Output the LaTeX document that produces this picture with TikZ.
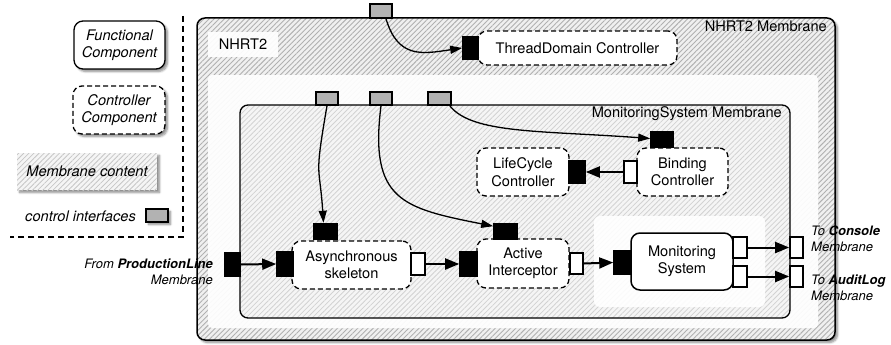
\documentclass[tikz,border=0pt]{standalone}
\usepackage{fontspec}
\setmainfont{TeX Gyre Heros}
\usetikzlibrary{patterns.meta,arrows.meta,shadows.blur,calc}
\tikzset{
  txt/.style={font=\fontsize{14.6}{17.5}\selectfont},
  smalltxt/.style={font=\fontsize{13}{16}\selectfont\itshape},
  fcomp/.style={txt, draw, line width=1.3pt, rounded corners=9pt, fill=white, align=center, inner sep=0pt},
  ccomp/.style={fcomp, dash pattern=on 5pt off 3pt},
  hatchdark/.style={preaction={fill=gray!12}, pattern={Lines[angle=45,distance=3.6pt,line width=0.9pt]}, pattern color=gray!62},
  hatchlight/.style={preaction={fill=gray!8}, pattern={Lines[angle=45,distance=3.6pt,line width=0.8pt]}, pattern color=gray!35},
  itf/.style={draw, line width=1.6pt, inner sep=0pt},
  blk/.style={itf, fill=black},
  wht/.style={itf, fill=white},
  gry/.style={itf, fill=gray!60},
  shd/.style={blur shadow={shadow xshift=2.5pt, shadow yshift=-2.5pt, shadow blur steps=6, shadow opacity=45}},
  thickarrow/.style={line width=2pt, -{Triangle[length=14pt,width=11pt]}},
  thinarrow/.style={line width=1.3pt, -{Triangle[length=12pt,width=8pt]}},
}
\begin{document}
\begin{tikzpicture}[x=1pt,y=-1pt]
\useasboundingbox (0,0) rectangle (891,345);

% ---------------- legend ----------------
\node[shd, fcomp, minimum width=91pt, minimum height=48pt, font=\fontsize{14.6}{17.5}\selectfont\itshape] (lfunc) at (119.5,45) {Functional\\Component};
\node[shd, ccomp, minimum width=92pt, minimum height=48pt, font=\fontsize{14.6}{17.5}\selectfont\itshape] (lctrl) at (119,110) {Controller\\Component};
\node[shd, hatchlight, pattern color=gray!45, minimum width=140pt, minimum height=37pt, txt, font=\fontsize{14.6}{17.5}\selectfont\itshape, inner sep=0pt] (lmemb) at (87,171.5) {Membrane content};
\node[txt, font=\fontsize{14.6}{17.5}\selectfont\itshape, anchor=east, inner sep=0pt] (lctltxt) at (136,216) {control interfaces};
\node[shd, gry, minimum width=22pt, minimum height=13pt] (lgry) at (157,215.5) {};
\coordinate (legtop) at (183,16);
\coordinate (legcorner) at (183,237);
\coordinate (legleft) at (10,237);
\draw[line width=1.5pt, dash pattern=on 6pt off 4pt] (legtop) -- (legcorner) -- (legleft);

% ---------------- NHRT2 membrane ----------------
\node[shd, draw, line width=1.5pt, rounded corners=8pt, hatchdark, minimum width=638pt, minimum height=322pt, inner sep=0pt] (nhrt) at (516,179) {};
\node[txt, anchor=north east, inner sep=0pt] (nhrtlbl) at (827,21) {NHRT2 Membrane};
\node[fill=white, fill opacity=0.92, text opacity=1, minimum width=70pt, minimum height=25pt, txt, inner sep=0pt] (nhrtname) at (243,44.5) {NHRT2};
\node[fill=white, fill opacity=0.93, rounded corners=4pt, minimum width=610pt, minimum height=253pt, inner sep=0pt] (inner) at (513,201.5) {};

% ThreadDomain controller
\node[ccomp, minimum width=199pt, minimum height=34pt] (tdc) at (577.5,48) {ThreadDomain Controller};
\node[blk, minimum width=15pt, minimum height=22pt] (tdblack) at (470.5,48) {};
\node[gry, minimum width=22pt, minimum height=14pt] (topgray) at (381,11) {};

% ---------------- MonitoringSystem membrane ----------------
\node[draw, line width=1.3pt, rounded corners=8pt, hatchlight, minimum width=550pt, minimum height=213pt, inner sep=0pt] (msm) at (515,211.5) {};
\node[txt, anchor=north east, inner sep=0pt] (msmlbl) at (782,106) {MonitoringSystem Membrane};

\node[gry, minimum width=22pt, minimum height=13pt] (g1) at (327,98.5) {};
\node[gry, minimum width=22pt, minimum height=13pt] (g2) at (381,98.5) {};
\node[gry, minimum width=23pt, minimum height=13pt] (g3) at (439.5,98.5) {};

% controllers
\node[ccomp, minimum width=91pt, minimum height=48pt] (bc) at (682.5,172) {Binding\\Controller};
\node[blk, minimum width=22pt, minimum height=15pt] (bctop) at (662,139.5) {};
\node[wht, minimum width=13pt, minimum height=22pt] (bcleft) at (630.5,172) {};
\node[ccomp, minimum width=92pt, minimum height=48pt] (lc) at (523,172) {LifeCycle\\Controller};
\node[blk, minimum width=16pt, minimum height=22pt] (lcright) at (577,172) {};

% functional chain
\node[ccomp, minimum width=119pt, minimum height=48pt] (async) at (351.5,265) {Asynchronous\\skeleton};
\node[blk, minimum width=23pt, minimum height=16pt] (asynctop) at (325.5,231.5) {};
\node[blk, minimum width=16pt, minimum height=24pt] (asyncleft) at (285,264) {};
\node[wht, minimum width=14pt, minimum height=22pt] (asyncright) at (418,264) {};

\node[ccomp, minimum width=92pt, minimum height=49pt] (ai) at (523,263.5) {Active\\Interceptor};
\node[blk, minimum width=23pt, minimum height=15pt] (aitop) at (505.5,231.5) {};
\node[blk, minimum width=17pt, minimum height=24pt] (aileft) at (468.5,264) {};
\node[wht, minimum width=13pt, minimum height=21pt] (airight) at (576.5,263.5) {};

\node[fill=white, fill opacity=0.9, rounded corners=6pt, minimum width=171pt, minimum height=91pt, inner sep=0pt] (mspanel) at (679.5,261.5) {};
\node[fcomp, line width=1.5pt, minimum width=102pt, minimum height=57pt] (ms) at (682,261.5) {Monitoring\\System};
\node[blk, minimum width=17pt, minimum height=23pt] (msleft) at (622.5,262.5) {};
\node[wht, minimum width=14pt, minimum height=21pt] (msout1) at (740,247.5) {};
\node[wht, minimum width=14pt, minimum height=21pt] (msout2) at (740,276.5) {};
\node[wht, minimum width=13pt, minimum height=21pt] (ext1) at (796.5,247.5) {};
\node[wht, minimum width=13pt, minimum height=21pt] (ext2) at (796.5,276.5) {};
\node[blk, minimum width=15pt, minimum height=23pt] (extin) at (232.5,264.5) {};

% external labels
\node[smalltxt, anchor=west, align=left, inner sep=0pt] (consolelbl) at (811,239) {To \textbf{Console}\\Membrane};
\node[smalltxt, anchor=west, align=left, inner sep=0pt] (auditlbl) at (811,288) {To \textbf{AuditLog}\\Membrane};
\node[smalltxt, anchor=east, align=right, inner sep=0pt] (prodlbl) at (213,272) {From \textbf{ProductionLine}\\Membrane};

% ---------------- connectors ----------------
\draw[thickarrow] (extin.east) -- (asyncleft.west);
\draw[thickarrow] (asyncright.east) -- (aileft.west);
\draw[thickarrow] (airight.east) -- (msleft.west);
\draw[thickarrow] (msout1.east) -- (ext1.west);
\draw[thickarrow] (msout2.east) -- (ext2.west);
\draw[thickarrow] (bcleft.west) -- (lcright.east);

\draw[thinarrow] ($(topgray.south)+(5,0)$) .. controls +(12,40) and +(-40,6) .. (tdblack.west);
\draw[thinarrow] (g1.south) .. controls +(-13,75) and +(-4,-60) .. ($(asynctop.north)+(-2,0)$);
\draw[thinarrow] (g2.south) .. controls +(-12,95) and +(-90,-18) .. ($(aitop.north west)+(0,3)$);
\draw[thinarrow] ($(g3.south east)+(-2,0)$) .. controls +(22,28) and +(-110,-8) .. ($(bctop.west)+(0,-1)$);
\end{tikzpicture}
\end{document}
